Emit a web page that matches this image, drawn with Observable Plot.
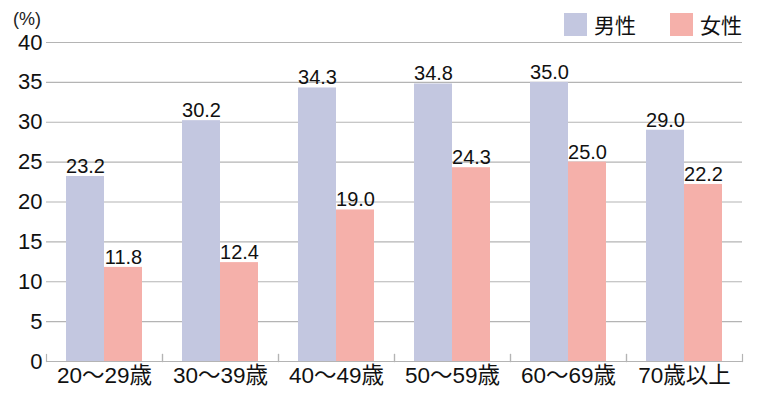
<!DOCTYPE html>
<html>
<head>
<meta charset="utf-8">
<script src="https://cdn.jsdelivr.net/npm/d3@7"></script>
<script src="https://cdn.jsdelivr.net/npm/@observablehq/plot@0.6"></script>
<style>
  html, body { margin: 0; padding: 0; background: #fff; }
  #wrap { position: relative; width: 759px; height: 393px; font-family: "Liberation Sans", Arial, "Noto Sans CJK JP", sans-serif; }
  #unit { position: absolute; left: 13px; top: 9px; font-size: 18px; color: #222; }
  #legend { position: absolute; right: 17px; top: 13px; display: flex; align-items: center; font-size: 21px; font-family: "Noto Sans CJK JP", sans-serif; color: #111; }
  .item { display: flex; align-items: center; margin-left: 34px; }
  .sw { width: 23px; height: 23px; margin-right: 7px; }
  .lab { line-height: 23px; }
</style>
</head>
<body>
<div id="wrap">
  <div id="unit">(%)</div>
  <div id="legend"></div>
</div>
<script>
const ageGroups = ["20〜29歳", "30〜39歳", "40〜49歳", "50〜59歳", "60〜69歳", "70歳以上"];
const sexes = ["男性", "女性"];
const maleValues = [23.2, 30.2, 34.3, 34.8, 35.0, 29.0];
const femaleValues = [11.8, 12.4, 19.0, 24.3, 25.0, 22.2];
const colors = ["#c3c7e0", "#f5b0aa"];
const yTicks = [0, 5, 10, 15, 20, 25, 30, 35, 40];

const data = [];
ageGroups.forEach((g, i) => {
  data.push({group: g, sex: sexes[0], value: maleValues[i]});
  data.push({group: g, sex: sexes[1], value: femaleValues[i]});
});

const W = 759, H = 393, mTop = 42, mBottom = 32;
const grid = "#b4b4b4";

const plot = Plot.plot({
  width: W,
  height: H,
  marginTop: mTop,
  marginBottom: mBottom,
  marginLeft: 44,
  marginRight: 16,
  style: {fontFamily: '"Liberation Sans", Arial, "Noto Sans CJK JP", sans-serif', background: "transparent", overflow: "visible"},
  fx: {domain: ageGroups, padding: 0, label: null, axis: null},
  x: {domain: sexes, paddingInner: 0, paddingOuter: 0.5, axis: null},
  y: {domain: [0, 40], label: null},
  color: {domain: sexes, range: colors},
  marks: [
    Plot.gridY(yTicks, {stroke: grid, strokeOpacity: 1, strokeWidth: 1.2}),
    Plot.frame({anchor: "left", stroke: grid, strokeWidth: 1.2, insetTop: H - mTop - mBottom - 7}),
    Plot.frame({anchor: "right", stroke: grid, strokeWidth: 1.2, insetTop: H - mTop - mBottom - 7}),
    Plot.axisY(yTicks, {tickSize: 0, tickPadding: 4, fontSize: 22, fill: "#111", label: null}),
    Plot.axisFx({anchor: "bottom", tickSize: 0, tickPadding: 6, fontSize: 22.5, fill: "#111", label: null}),
    Plot.barY(data, {fx: "group", x: "sex", y: "value", fill: "sex"}),
    Plot.text(data, {fx: "group", x: "sex", y: "value", text: d => d.value.toFixed(1), dy: -10, fontSize: 20, fill: "#111"})
  ]
});
document.getElementById("wrap").prepend(plot);
plot.style.position = "absolute";
plot.style.left = "0";
plot.style.top = "0";

const legend = d3.select("#legend");
sexes.forEach((s, i) => {
  const it = legend.append("div").attr("class", "item");
  it.append("div").attr("class", "sw").style("background", colors[i]);
  it.append("div").attr("class", "lab").text(s);
});
</script>
</body>
</html>
